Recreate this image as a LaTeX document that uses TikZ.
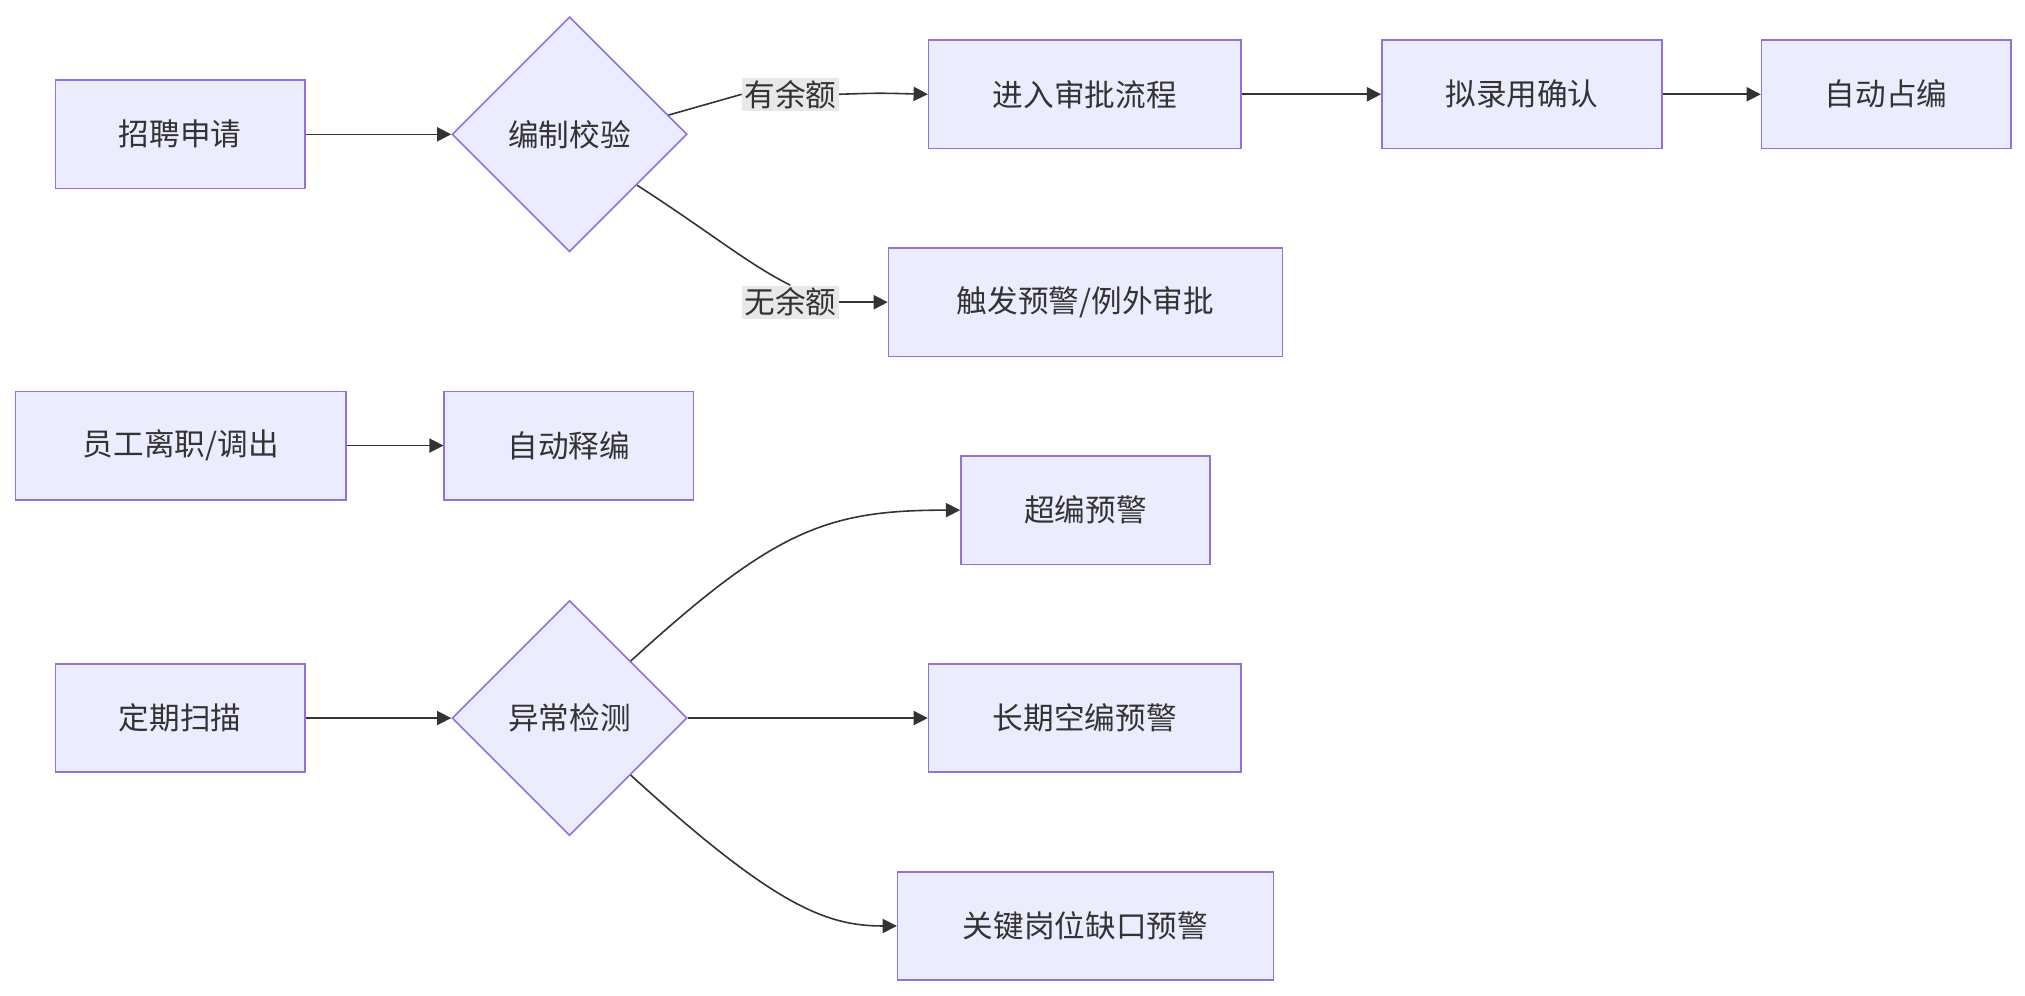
\documentclass[tikz,border=0pt]{standalone}
\usepackage{fontspec}
\setmainfont{Noto Sans CJK SC}
\usetikzlibrary{arrows.meta, positioning, shapes.geometric}
\definecolor{boxfill}{HTML}{ECECFF}
\definecolor{boxline}{HTML}{9370DB}
\definecolor{edgecol}{HTML}{333333}
\definecolor{lblfill}{HTML}{E8E8E8}
\tikzset{
  box/.style={draw=boxline, fill=boxfill, line width=0.7pt, minimum height=1.68cm, inner sep=0pt, font=\fontsize{13.5}{16}\selectfont, text=edgecol},
  check/.style={diamond, draw=boxline, fill=boxfill, line width=0.7pt, minimum width=3.64cm, minimum height=3.64cm, inner sep=0pt, font=\fontsize{13.5}{16}\selectfont, text=edgecol},
  lbl/.style={fill=lblfill, inner sep=1pt, font=\fontsize{13.5}{16}\selectfont, text=edgecol},
  line/.style={draw=edgecol, line width=0.7pt, -{Triangle[length=0.22cm, width=0.22cm]}},
}
\begin{document}
\begin{tikzpicture}[x=0.02cm, y=-0.02cm]
  \useasboundingbox (0,0) rectangle (1568,771);
  % recruiting
  \node[box, minimum width=3.86cm] (apply) at (139.5,104) {招聘申请};
  \node[check] (chk) at (441,104) {编制校验};
  \node[box, minimum width=4.84cm] (approve) at (840,73) {进入审批流程};
  \node[box, minimum width=4.34cm] (confirm) at (1178.5,73) {拟录用确认};
  \node[box, minimum width=3.86cm] (occupy) at (1460.5,73) {自动占编};
  \node[box, minimum width=6.10cm] (warn) at (840.5,234) {触发预警/例外审批};
  \node[lbl] (yes) at (612,73) {有余额};
  \node[lbl] (no) at (612,234) {无余额};
  % leaving
  \node[box, minimum width=5.12cm] (leave) at (140,345) {员工离职/调出};
  \node[box, minimum width=3.86cm] (release) at (440.5,345) {自动释编};
  % scanning
  \node[box, minimum width=3.86cm] (scan) at (139.5,556) {定期扫描};
  \node[check] (detect) at (441,556) {异常检测};
  \node[box, minimum width=3.86cm] (over) at (840.5,395) {超编预警};
  \node[box, minimum width=4.84cm] (vacant) at (840,556) {长期空编预警};
  \node[box, minimum width=5.82cm] (gap) at (840.5,717) {关键岗位缺口预警};

  \draw[line] (apply) -- (chk);
  \draw[draw=edgecol, line width=0.7pt] (chk.11) -- (yes.west);
  \draw[line] (yes.east) .. controls (680,72) .. (approve.west);
  \draw[draw=edgecol, line width=0.7pt] (chk.-37) .. controls (550,180) and (580,205) .. (no.north);
  \draw[line] (no.east) .. controls (670,234) .. (warn.west);
  \draw[line] (approve) -- (confirm);
  \draw[line] (confirm) -- (occupy);
  \draw[line] (leave) -- (release);
  \draw[line] (scan) -- (detect);
  \draw[line] (detect.43) .. controls (600,410) and (640,395) .. (over.west);
  \draw[line] (detect) -- (vacant);
  \draw[line] (detect.-43) .. controls (600,702) and (640,717) .. (gap.west);
\end{tikzpicture}
\end{document}
